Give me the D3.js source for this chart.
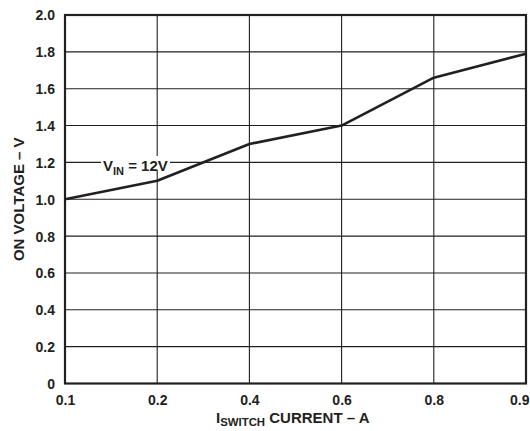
<!DOCTYPE html>
<html>
<head>
<meta charset="utf-8">
<script src="https://cdn.jsdelivr.net/npm/d3@7"></script>
<style>
  body { margin: 0; background: #fff; }
  svg text { font-family: "Liberation Sans", Arial, sans-serif; font-weight: bold; fill: #231f20; }
</style>
</head>
<body>
<div id="chart"></div>
<script>
// categories on the x axis (evenly spaced in the original)
var currents = ["0.1", "0.2", "0.4", "0.6", "0.8", "0.9"];
// on voltage
var onVoltage = [1.0, 1.1, 1.3, 1.4, 1.66, 1.79];
var yTicks = [0, 0.2, 0.4, 0.6, 0.8, 1.0, 1.2, 1.4, 1.6, 1.8, 2.0];

var w = 530, h = 431;
var pLeft = 65, pRight = 526, pTop = 15, pBottom = 383.5;

var svg = d3.select("#chart").append("svg")
    .attr("width", w)
    .attr("height", h);

var x = d3.scalePoint().domain(currents).range([pLeft, pRight]);
var y = d3.scaleLinear().domain([0, 2]).range([pBottom, pTop]);

// grid
svg.append("g").selectAll("line.v")
    .data(currents)
    .enter().append("line")
    .attr("x1", function(d){ return x(d); })
    .attr("x2", function(d){ return x(d); })
    .attr("y1", pTop).attr("y2", pBottom)
    .attr("stroke", "#231f20").attr("stroke-width", 1.1);

svg.append("g").selectAll("line.h")
    .data(yTicks)
    .enter().append("line")
    .attr("x1", pLeft).attr("x2", pRight)
    .attr("y1", function(d){ return y(d); })
    .attr("y2", function(d){ return y(d); })
    .attr("stroke", "#231f20").attr("stroke-width", 1.1);

// frame
svg.append("rect")
    .attr("x", pLeft).attr("y", pTop)
    .attr("width", pRight-pLeft).attr("height", pBottom-pTop)
    .attr("fill", "none").attr("stroke", "#231f20").attr("stroke-width", 2.2);

// axes (labels only)
var yAxis = svg.append("g")
    .attr("transform", "translate(" + pLeft + ",0)")
    .call(d3.axisLeft(y).tickValues(yTicks).tickSize(0).tickPadding(10)
        .tickFormat(function(d){ return d === 0 ? "0" : d3.format(".1f")(d); }));
yAxis.select(".domain").remove();
yAxis.selectAll("text").attr("font-size", 14).attr("font-family", null).attr("dy", "0.35em");

var xAxis = svg.append("g")
    .attr("transform", "translate(0," + pBottom + ")")
    .call(d3.axisBottom(x).tickSize(0).tickPadding(12));
xAxis.select(".domain").remove();
xAxis.selectAll("text").attr("font-size", 14).attr("font-family", null);
// last label sits inside the window edge
xAxis.selectAll("text")
    .filter(function(d){ return d === currents[currents.length-1]; })
    .attr("text-anchor", "end").attr("dx", 3);

// curve
var line = d3.line()
    .x(function(d,i){ return x(currents[i]); })
    .y(function(d){ return y(d); });

svg.append("path")
    .datum(onVoltage)
    .attr("d", line)
    .attr("fill", "none")
    .attr("stroke", "#231f20")
    .attr("stroke-width", 2.6)
    .attr("stroke-linejoin", "round");

// V_IN label with white backing
svg.append("rect")
    .attr("x", 101).attr("y", 156).attr("width", 69).attr("height", 14)
    .attr("fill", "#fff");
var lab = svg.append("text")
    .attr("x", 103).attr("y", 171)
    .attr("font-size", 15);
lab.append("tspan").text("V");
lab.append("tspan").attr("font-size", 11).attr("dy", 4).text("IN");
lab.append("tspan").attr("dy", -4).text(" = 12V");

// x title
var xt = svg.append("text")
    .attr("x", 216).attr("y", 423)
    .attr("font-size", 15);
xt.append("tspan").text("I");
xt.append("tspan").attr("font-size", 11.4).attr("dy", 3).text("SWITCH");
xt.append("tspan").attr("dy", -3).text(" CURRENT \u2013 A");

// y title
svg.append("text")
    .attr("transform", "translate(24," + ((pTop+pBottom)/2) + ") rotate(-90)")
    .attr("text-anchor", "middle")
    .attr("font-size", 15)
    .text("ON VOLTAGE \u2013 V");
</script>
</body>
</html>
